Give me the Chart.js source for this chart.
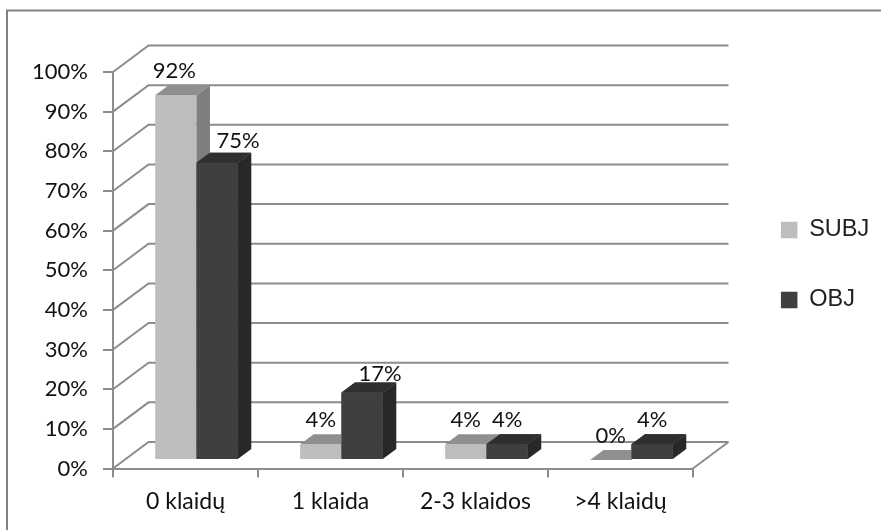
<!DOCTYPE html>
<html>
<head>
<meta charset="utf-8">
<style>
  html, body { margin: 0; padding: 0; background: #fff; }
  #wrap { width: 881px; height: 530px; position: relative; }
</style>
<script src="https://cdn.jsdelivr.net/npm/chart.js@4/dist/chart.umd.min.js"></script>
</head>
<body>
<div id="wrap"><canvas id="c" width="881" height="530"></canvas></div>
<script>
const categories = ['0 klaidų', '1 klaida', '2-3 klaidos', '>4 klaidų'];
const subjValues = [92, 4, 4, 0];
const objValues = [75, 17, 4, 4];
const yTicks = [0, 10, 20, 30, 40, 50, 60, 70, 80, 90, 100];

const subjColors = { front: '#bdbdbd', top: '#8f8f8f', side: '#7f7f7f' };
const objColors = { front: '#3f3f3f', top: '#2f2f2f', side: '#282828' };
const axisGrey = '#8c8c8c';

// depth of the floor/walls and of the bars, the 3d look is done by hand
const wallDx = 35.5, wallDy = -26.5;
const barDx = 13.5, barDy = -10;
const shiftX = 11, shiftY = -8.5;

// a few value labels sit beside their bar, not above it
function labelNudge(di, i) {
  if (di === 0 && i === 0) return [-1.5, 0];
  if (di === 1 && i === 0) return [21, 2];
  if (di === 1 && i === 1) return [18, 5];
  return [0, 0];
}

const walls3d = {
  id: 'walls3d',
  afterLayout(chart) {
    // legend stays out at the right, away from the plot
    const lg = chart.legend;
    lg.left += 41.5;
    lg.right += 41.5;
    lg.top -= 36;
    lg.bottom -= 36;
  },
  beforeDraw(chart) {
    // frame: only the left and top edges show in the picture
    const { ctx } = chart;
    ctx.save();
    ctx.strokeStyle = '#808080';
    ctx.lineWidth = 2;
    ctx.beginPath();
    ctx.moveTo(7, 530);
    ctx.lineTo(7, 10.5);
    ctx.lineTo(881, 10.5);
    ctx.stroke();
    ctx.restore();
  },
  beforeDatasetsDraw(chart) {
    const { ctx, scales: { x, y } } = chart;
    const left = x.left, right = x.right;
    ctx.save();
    ctx.strokeStyle = axisGrey;
    ctx.lineWidth = 2;
    yTicks.forEach((t) => {
      const py = y.getPixelForValue(t);
      ctx.beginPath();
      ctx.moveTo(left, py);
      ctx.lineTo(left + wallDx, py + wallDy);
      ctx.lineTo(right + wallDx, py + wallDy);
      ctx.stroke();
    });
    // right edge of the floor
    const p0 = y.getPixelForValue(0);
    ctx.beginPath();
    ctx.moveTo(right, p0);
    ctx.lineTo(right + wallDx, p0 + wallDy);
    ctx.stroke();
    ctx.restore();

    // bars are moved back from the front plane
    ctx.save();
    ctx.translate(shiftX, shiftY);
  },
  afterDatasetsDraw(chart) {
    const { ctx } = chart;
    const palette = [subjColors, objColors];
    chart.data.datasets.forEach((ds, di) => {
      const meta = chart.getDatasetMeta(di);
      const c = palette[di];
      meta.data.forEach((bar) => {
        const l = bar.x - bar.width / 2, r = bar.x + bar.width / 2;
        const top = bar.y, base = bar.base;
        ctx.fillStyle = c.top;
        ctx.beginPath();
        ctx.moveTo(l, top);
        ctx.lineTo(l + barDx, top + barDy);
        ctx.lineTo(r + barDx, top + barDy);
        ctx.lineTo(r, top);
        ctx.closePath();
        ctx.fill();
        if (base - top > 0.5) {
          ctx.fillStyle = c.side;
          ctx.beginPath();
          ctx.moveTo(r, top);
          ctx.lineTo(r + barDx, top + barDy);
          ctx.lineTo(r + barDx, base + barDy);
          ctx.lineTo(r, base);
          ctx.closePath();
          ctx.fill();
        }
      });
    });
    // second series sits over the first one, repaint its faces
    const meta1 = chart.getDatasetMeta(1);
    meta1.data.forEach((bar) => {
      ctx.fillStyle = objColors.front;
      ctx.fillRect(bar.x - bar.width / 2, bar.y, bar.width, bar.base - bar.y);
      ctx.fillStyle = objColors.top;
      const l = bar.x - bar.width / 2, r = bar.x + bar.width / 2;
      ctx.beginPath();
      ctx.moveTo(l, bar.y);
      ctx.lineTo(l + barDx, bar.y + barDy);
      ctx.lineTo(r + barDx, bar.y + barDy);
      ctx.lineTo(r, bar.y);
      ctx.closePath();
      ctx.fill();
    });
    ctx.restore();

    // value labels
    ctx.save();
    ctx.fillStyle = '#111';
    ctx.font = '22px Lato';
    ctx.textAlign = 'center';
    ctx.textBaseline = 'alphabetic';
    chart.data.datasets.forEach((ds, di) => {
      chart.getDatasetMeta(di).data.forEach((bar, i) => {
        const [nx, ny] = labelNudge(di, i);
        ctx.fillText(ds.data[i] + '%', bar.x + shiftX + nx, bar.y + shiftY - 17 + ny);
      });
    });
    ctx.restore();
  }
};

new Chart(document.getElementById('c'), {
  type: 'bar',
  data: {
    labels: categories,
    datasets: [
      { label: 'SUBJ', data: subjValues, backgroundColor: subjColors.front, categoryPercentage: 0.57, barPercentage: 1 },
      { label: 'OBJ', data: objValues, backgroundColor: objColors.front, categoryPercentage: 0.57, barPercentage: 1 }
    ]
  },
  options: {
    responsive: false,
    animation: false,
    layout: { padding: { left: 20, top: 72, right: 43.25, bottom: 0 } },
    plugins: {
      tooltip: { enabled: false },
      legend: {
        position: 'right',
        labels: {
          boxWidth: 16.5, boxHeight: 16.5, padding: 46.5, color: '#222',
          font: { family: 'Liberation Sans', size: 23.5 }
        }
      }
    },
    scales: {
      x: {
        afterFit: (s) => { s.height = 61.5; },
        grid: { drawOnChartArea: false, color: axisGrey, lineWidth: 2, tickLength: 9, offset: true },
        border: { color: axisGrey, width: 2 },
        ticks: { color: '#111', font: { family: 'Lato', size: 23 }, padding: 10, maxRotation: 0 }
      },
      y: {
        min: 0, max: 100,
        afterFit: (s) => { s.width = 93; },
        afterBuildTicks: (s) => { s.ticks = yTicks.map((v) => ({ value: v })); },
        grid: { drawOnChartArea: false, color: axisGrey, lineWidth: 2, tickLength: 10 },
        border: { color: axisGrey, width: 2 },
        ticks: { color: '#111', font: { family: 'Lato', size: 22 }, padding: 15, callback: (v) => v + '%' }
      }
    }
  },
  plugins: [walls3d]
});
</script>
</body>
</html>
